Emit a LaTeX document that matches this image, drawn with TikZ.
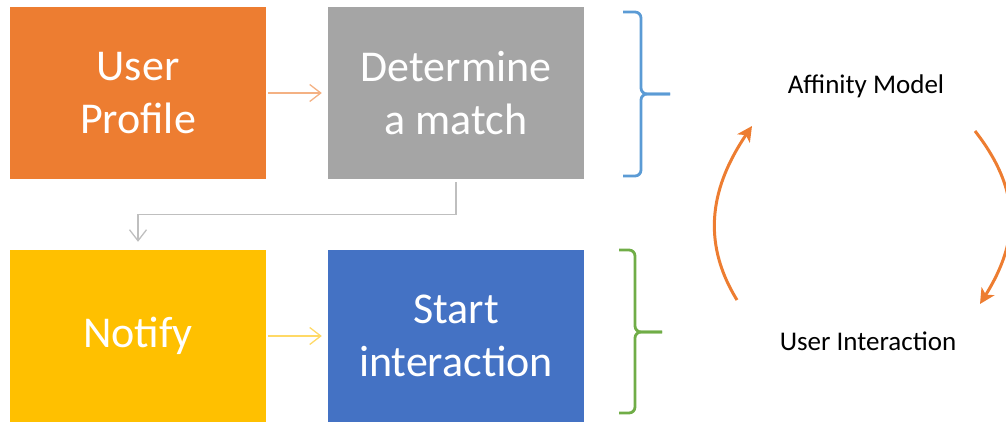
\documentclass[tikz,border=0pt]{standalone}
\usepackage{fontspec}
\setmainfont{Carlito}
\usetikzlibrary{arrows.meta}

\definecolor{boxorange}{HTML}{ED7D31}
\definecolor{boxgray}{HTML}{A5A5A5}
\definecolor{boxyellow}{HTML}{FFC000}
\definecolor{boxblue}{HTML}{4472C4}
\definecolor{lineorange}{HTML}{F4B183}
\definecolor{linegray}{HTML}{BFBFBF}
\definecolor{lineyellow}{HTML}{FFD966}
\definecolor{braceblue}{HTML}{5B9BD5}
\definecolor{bracegreen}{HTML}{70AD47}

\tikzset{
  box/.style={minimum width=256pt, minimum height=172pt, inner sep=0pt,
    text=white, align=center, font=\fontsize{44}{53}\selectfont},
  flow/.style={line width=1.3pt, -{Straight Barb[length=11pt, width=17pt]},
    shorten <=2pt, shorten >=6pt},
  brace/.style={line width=2.8pt, rounded corners=6pt},
  label/.style={inner sep=0pt, font=\fontsize{27}{32}\selectfont},
  cycle/.style={line width=3pt, boxorange, -{Stealth[length=15pt, width=15pt, inset=4pt]}}
}

\begin{document}
\begin{tikzpicture}[x=1pt, y=-1pt]
    \useasboundingbox (0, 0) rectangle (1006, 421);
    % flow boxes
    \node [box, fill=boxorange] (profile) at (138, 93)  {User\\Profile};
    \node [box, fill=boxgray]   (match)   at (456, 93)  {Determine\\a match};
    \node [box, fill=boxyellow] (notify)  at (138, 336) {Notify};
    \node [box, fill=boxblue]   (start)   at (456, 336) {Start\\interaction};
    % arrows between boxes
    \draw [flow, lineorange]  (profile) -- (match);
    \draw [flow, lineyellow]  (notify) -- (start);
    \draw [flow, linegray, shorten <=3pt, shorten >=8pt]
          (match.south) -- ++(0, 35) -| (notify.north);
    % braces
    \draw [brace, braceblue]  (623, 12) -- (641, 12) -- (641, 94) -- (670, 94);
    \draw [brace, braceblue]  (670, 94) -- (641, 94) -- (641, 176) -- (623, 176);
    \draw [brace, bracegreen] (619, 250) -- (635, 250) -- (635, 332) -- (662, 332);
    \draw [brace, bracegreen] (662, 332) -- (635, 332) -- (635, 413) -- (619, 413);
    % model cycle
    \node [label] (affinity) at (866, 86)  {Affinity Model};
    \node [label] (interact) at (868, 341) {User Interaction};
    \draw [cycle] ([shift={(-131, -41)}]interact.center)
          .. controls (700, 240) and (712, 185) .. ([shift={(-114, 40)}]affinity.center);
    \draw [cycle] ([shift={(109, 45)}]affinity.center)
          .. controls (1021, 190) and (1020, 240) .. ([shift={(112, -37)}]interact.center);
\end{tikzpicture}
\end{document}
